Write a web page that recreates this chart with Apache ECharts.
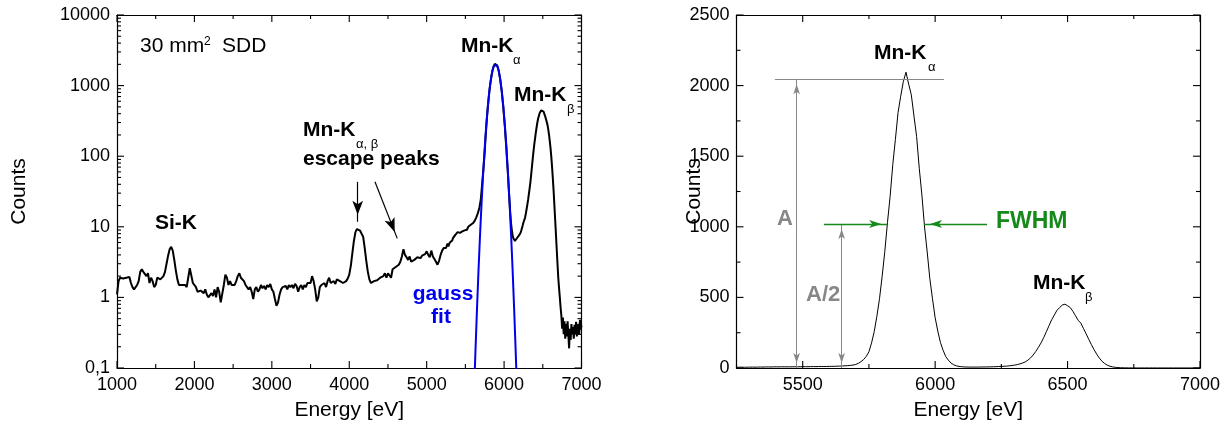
<!DOCTYPE html>
<html>
<head>
<meta charset="utf-8">
<script src="https://cdn.jsdelivr.net/npm/echarts@6/dist/echarts.min.js"></script>
<style>
  html, body { margin: 0; padding: 0; background: #fff; }
  #chart { width: 1229px; height: 438px; }
</style>
</head>
<body>
<div id="chart"></div>
<script>
// Mn (Fe-55) spectrum measured with a 30 mm² silicon drift detector.
// Low-energy part: 20 eV bins from 1000 eV.
const lowStart = 1000, lowStep = 20;
const lowCounts = [
  1.1, 1.7, 1.9, 1.8, 1.85, 1.75, 1.9, 1.85, 1.95, 1.6,
  1.4, 1.3, 1.25, 1.5, 1.7, 2.3, 2.5, 2.3, 2.4, 2.0,
  2.2, 1.6, 1.9, 1.7, 1.4, 1.5, 1.9, 2.0, 1.8, 1.9,
  2.0, 2.3, 3.0, 3.9, 4.8, 5.2, 4.6, 3.4, 2.4, 1.8,
  1.5, 1.6, 1.5, 1.6, 1.5, 1.4, 1.9, 2.6, 2.5, 1.6,
  1.5, 1.4, 1.2, 1.15, 1.25, 1.2, 1.15, 1.3, 1.1, 1.0,
  0.95, 1.15, 1.05, 1.3, 1.0, 1.4, 1.2, 0.85, 0.82, 1.5,
  2.1, 1.9, 1.5, 1.7, 1.5, 1.6, 1.5, 1.7, 2.0, 2.2,
  1.9, 2.0, 1.7, 1.5, 1.6, 1.3, 1.4, 1.2, 0.95, 1.3,
  1.4, 1.2, 1.3, 1.5, 1.35, 1.45, 1.3, 1.5, 1.4, 1.55,
  1.3, 1.2, 0.95, 0.76, 0.85, 1.1, 1.3, 1.4, 1.35, 1.45,
  1.3, 1.5, 1.4, 1.5, 1.35, 1.55, 1.45, 1.2, 1.4, 1.5,
  1.3, 1.5, 1.4, 1.6, 1.5, 1.6, 2.0, 1.7, 1.3, 0.88,
  1.0, 1.4, 1.5, 1.45, 1.6, 1.4, 1.7, 1.9, 1.6, 1.55,
  1.7, 1.55, 1.8, 1.9, 1.7, 1.8, 1.6, 1.6, 1.7, 1.85,
  2.1, 2.8, 4.2, 6.3, 8.4, 9.3, 9.2, 8.8, 8.6, 7.2,
  5.0, 3.3, 2.3, 1.8, 1.6, 1.65, 1.7, 1.6, 1.75, 1.7,
  1.9, 1.8, 2.0, 2.2, 1.9, 2.2, 2.1, 1.9, 2.5, 2.4,
  2.7, 2.6, 2.9, 3.2, 3.8, 4.8, 4.0, 3.7, 3.4, 3.8,
  3.2, 3.0, 3.4, 3.5, 3.7, 3.9, 3.6, 3.9, 3.7, 4.1,
  4.5, 4.0, 3.7, 4.6, 3.8, 3.5, 3.2, 2.9, 3.3, 4.0,
  4.6, 5.0, 5.0
];

// Mn-K region: 10 eV bins from 5250 eV.
const highStart = 5250, highStep = 10;
const highCounts = [
  5.0, 5.4, 5.8, 5.3, 5.6, 6.0, 6.3, 5.8, 6.4, 6.9,
  6.5, 7.2, 7.7, 7.3, 8.0, 8.4, 7.9, 8.6, 8.2, 8.5,
  8.1, 8.6, 8.8, 8.3, 8.9, 9.1, 9.4, 9.1, 9.7, 10.1,
  9.8, 10.4, 10.7, 10.4, 10.9, 11.3, 11.6, 12.1, 12.8, 13.5,
  14.4, 15.5, 16.8, 18.5, 21, 25, 33, 45, 60, 82,
  115, 178, 258, 366, 492, 650, 826, 1030, 1215, 1440,
  1620, 1810, 1925, 2030, 2095, 2010, 1935, 1785, 1640, 1415,
  1225, 998, 822, 632, 490, 356, 262, 180, 126, 81,
  55, 35, 23, 15.5, 11.2, 9.0, 7.6, 6.9, 6.5, 6.3,
  6.6, 6.5, 7.0, 7.1, 7.5, 7.7, 8.1, 8.7, 9.5, 10.4,
  11.5, 12.4, 13.3, 15.2, 17.6, 20.5, 24, 29, 35, 43,
  55, 71, 92, 117, 147, 178, 216, 257, 300, 342,
  375, 409, 428, 446, 452, 441, 428, 402, 370, 338,
  318, 280, 242, 203, 165, 130, 98, 70, 48, 32,
  20, 12.5, 7.8, 4.8, 3.0, 1.9, 1.35, 1.0, 0.72, 0.55,
  0.36, 0.52, 0.3, 0.46, 0.26, 0.42, 0.28, 0.46, 0.3, 0.19,
  0.36, 0.25, 0.42, 0.3, 0.38, 0.26, 0.41, 0.3, 0.45, 0.28,
  0.36, 0.42, 0.3, 0.48, 0.35, 0.4
];

// Gaussian fit of the Mn-K alpha line, sampled every 20 eV from 5610 eV.
const gaussStart = 5610, gaussStep = 20;
const gaussCounts = [
  0.038, 0.171, 0.684, 2.46, 7.89, 22.7, 58.3, 134, 276, 509,
  839, 1237, 1634, 1930, 2040, 1930, 1634, 1237, 839, 509,
  276, 134, 58.3, 22.7, 7.89, 2.46, 0.684, 0.171, 0.038
];

// Peak height A, half height A/2 and the FWHM edges of Mn-K alpha.
const peakA = 2045;
const halfA = 1020;
const fwhmEdges = [5819, 5958];

// Tick values
const leftEnergyTicks = [1000, 2000, 3000, 4000, 5000, 6000, 7000];
const leftEnergyMinor = [1500, 2500, 3500, 4500, 5500, 6500];
const rightEnergyTicks = [5500, 6000, 6500, 7000];
const rightEnergyMinor = [5250, 5750, 6250, 6750];
const decadeTicks = [0.1, 1, 10, 100, 1000, 10000];
const countTicks = [0, 500, 1000, 1500, 2000, 2500];
const countMinor = [250, 750, 1250, 1750, 2250];

const toPairs = (start, step, arr) => arr.map((v, i) => [start + i * step, v]);
const lowSeries = toPairs(lowStart, lowStep, lowCounts);
const highSeries = toPairs(highStart, highStep, highCounts);
const spectrum = lowSeries.concat(highSeries);
const gaussSeries = toPairs(gaussStart, gaussStep, gaussCounts);

const logMinor = [];
for (let d = 0; d < decadeTicks.length - 1; d++) {
  for (let m = 2; m <= 9; m++) logMinor.push(+(decadeTicks[d] * m).toPrecision(6));
}

const FONT = '"Liberation Sans", Arial, Helvetica, sans-serif';
const BLACK = '#000';
const GRAY = '#878787';
const GREEN = '#15891a';
const BLUE = '#0000f0';

const frame = { show: true, onZero: false, lineStyle: { color: BLACK, width: 1.2 } };
const noTick = { show: false };
const tickLabel = { color: BLACK, fontFamily: FONT, fontSize: 18 };
const nameStyle = { color: BLACK, fontFamily: FONT, fontSize: 21 };
const plainNum = v => String(v);
const halfThousands = v => (v % 500 === 0 ? String(v) : '');
const logFmt = v => (v < 1 ? String(+v.toPrecision(6)).replace('.', ',') : String(Math.round(v)));

const grids = [
  { left: 117, top: 15, width: 464.5, height: 353, outerBoundsMode: 'none' },
  { left: 736.5, top: 15, width: 463.5, height: 353, outerBoundsMode: 'none' }
];

const xAxes = [
  // 0: spectrum (log plot), bottom
  { type: 'value', gridIndex: 0, position: 'bottom', min: 1000, max: 7000, interval: 1000,
    axisLine: frame, axisTick: noTick,
    axisLabel: Object.assign({ margin: 8, formatter: plainNum }, tickLabel),
    splitLine: { show: false },
    name: 'Energy [eV]', nameLocation: 'middle', nameGap: 32, nameMoveOverlap: false, nameTextStyle: nameStyle },
  // 1: spectrum (log plot), top frame
  { type: 'value', gridIndex: 0, position: 'top', min: 1000, max: 7000, interval: 1000,
    axisLine: frame, axisTick: noTick, axisLabel: { show: false }, splitLine: { show: false } },
  // 2: Mn-K region, bottom
  { type: 'value', gridIndex: 1, position: 'bottom', min: 5250, max: 7000, interval: 250,
    axisLine: frame, axisTick: noTick,
    axisLabel: Object.assign({ margin: 8, formatter: halfThousands, showMinLabel: true, showMaxLabel: true }, tickLabel),
    splitLine: { show: false },
    name: 'Energy [eV]', nameLocation: 'middle', nameGap: 32, nameMoveOverlap: false, nameTextStyle: nameStyle },
  // 3: Mn-K region, top frame
  { type: 'value', gridIndex: 1, position: 'top', min: 5250, max: 7000, interval: 250,
    axisLine: frame, axisTick: noTick, axisLabel: { show: false }, splitLine: { show: false } }
];

const yAxes = [
  // 0: log counts, left
  { type: 'log', logBase: 10, gridIndex: 0, position: 'left', min: 0.1, max: 10000,
    axisLine: frame, axisTick: noTick,
    axisLabel: Object.assign({ margin: 7, formatter: logFmt }, tickLabel),
    splitLine: { show: false },
    name: 'Counts', nameLocation: 'middle', nameGap: 87, nameMoveOverlap: false, nameTextStyle: nameStyle },
  // 1: log counts, right frame
  { type: 'log', logBase: 10, gridIndex: 0, position: 'right', min: 0.1, max: 10000,
    axisLine: frame, axisTick: noTick, axisLabel: { show: false }, splitLine: { show: false } },
  // 2: linear counts, left
  { type: 'value', gridIndex: 1, position: 'left', min: 0, max: 2500, interval: 500,
    axisLine: frame, axisTick: noTick,
    axisLabel: Object.assign({ margin: 7, formatter: plainNum }, tickLabel), splitLine: { show: false },
    name: 'Counts', nameLocation: 'middle', nameGap: 32, nameMoveOverlap: false, nameTextStyle: nameStyle },
  // 3: linear counts, right frame
  { type: 'value', gridIndex: 1, position: 'right', min: 0, max: 2500, interval: 500,
    axisLine: frame, axisTick: noTick, axisLabel: { show: false }, splitLine: { show: false } }
];

function arrowEnd(coord, size) {
  return { coord: coord, symbol: 'arrow', symbolSize: size, symbolOffset: [0, '50%'] };
}
function plainEnd(coord, lineStyle) {
  const item = { coord: coord, symbol: 'none' };
  if (lineStyle) item.lineStyle = lineStyle;
  return item;
}
function arrowStart(coord, size, lineStyle) {
  const item = arrowEnd(coord, size);
  if (lineStyle) item.lineStyle = lineStyle;
  return item;
}

const grayLine = { color: GRAY, width: 1, type: 'solid' };
const greenLine = { color: GREEN, width: 1.3, type: 'solid' };
const markBase = { silent: true, animation: false, label: { show: false }, emphasis: { disabled: true } };

const series = [
  { type: 'line', name: 'spectrum', xAxisIndex: 0, yAxisIndex: 0, data: spectrum,
    showSymbol: false, symbol: 'none', clip: true, sampling: 'none',
    lineStyle: { color: BLACK, width: 2 }, z: 2,
    markLine: Object.assign({}, markBase, {
      lineStyle: { color: BLACK, width: 1.2, type: 'solid' },
      data: [
        [plainEnd([4109, 43.4]), arrowEnd([4109, 11.8], [8, 14])],
        [plainEnd([4332, 43.4]), arrowEnd([4620, 6.85], [8, 14])]
      ]
    }) },
  { type: 'line', name: 'gauss fit', xAxisIndex: 0, yAxisIndex: 0, data: gaussSeries,
    showSymbol: false, symbol: 'none', clip: true, smooth: false,
    lineStyle: { color: BLUE, width: 2 }, z: 3 },
  { type: 'line', name: 'spectrum linear', xAxisIndex: 2, yAxisIndex: 2, data: highSeries,
    showSymbol: false, symbol: 'none', clip: true, sampling: 'none',
    lineStyle: { color: BLACK, width: 1 }, z: 3,
    markLine: Object.assign({}, markBase, {
      lineStyle: grayLine,
      data: [
        [plainEnd([5395, peakA], grayLine), plainEnd([6033, peakA])],
        [arrowStart([5477, 0], [5, 10], grayLine), arrowEnd([5477, peakA], [5, 10])],
        [arrowStart([5647, 0], [5, 10], grayLine), arrowEnd([5647, halfA], [5, 10])],
        [plainEnd([5580, halfA], greenLine), arrowEnd([fwhmEdges[0], halfA], [6, 12])],
        [plainEnd([6196, halfA], greenLine), arrowEnd([fwhmEdges[1], halfA], [6, 12])]
      ]
    }) }
];

function txt(text, x, y, size, opts) {
  opts = opts || {};
  const align = opts.align || 'left';
  return {
    type: 'text', x: x, y: y, silent: true, z: 10,
    style: {
      text: text, fill: opts.color || BLACK,
      font: (opts.bold ? 'bold ' : '') + size + 'px ' + FONT,
      align: align, verticalAlign: 'middle'
    }
  };
}

const labels = [
  // log plot
  txt('30 mm', 140, 46, 21),
  txt('2', 204, 42, 12),
  txt('SDD', 222, 46, 21),
  txt('Mn-K', 461, 46.5, 21, { bold: true }),
  txt('α', 513, 60, 13),
  txt('Mn-K', 514, 95, 21, { bold: true }),
  txt('β', 567, 109, 13),
  txt('Mn-K', 303, 130, 21, { bold: true }),
  txt('α, β', 356, 144, 13),
  txt('escape peaks', 303, 159, 21, { bold: true }),
  txt('Si-K', 155, 223, 21, { bold: true }),
  txt('gauss', 443, 294, 21, { bold: true, color: BLUE, align: 'center' }),
  txt('fit', 441, 317.5, 21, { bold: true, color: BLUE, align: 'center' }),
  // linear plot
  txt('Mn-K', 874, 53.5, 21, { bold: true }),
  txt('α', 928, 67.5, 13),
  txt('Mn-K', 1033, 283, 21, { bold: true }),
  txt('β', 1085, 297.5, 13),
  txt('A', 777, 219, 22, { bold: true, color: GRAY }),
  txt('A/2', 806, 295, 22, { bold: true, color: GRAY }),
  txt('FWHM', 996, 222, 23, { bold: true, color: GREEN })
];

const chart = echarts.init(document.getElementById('chart'), null, { renderer: 'canvas' });
chart.setOption({
  animation: false,
  backgroundColor: '#fff',
  textStyle: { fontFamily: FONT },
  grid: grids,
  xAxis: xAxes,
  yAxis: yAxes,
  series: series
});

// Maps an axis value to a pixel with the chart's own conversion; falls back to the
// grid box and the axis range when the conversion gives nothing usable.
function axisMapper(finder, lo, hi, pxLo, pxHi, isLog) {
  const f = isLog ? Math.log10 : (v => v);
  const manual = v => pxLo + (f(v) - f(lo)) / (f(hi) - f(lo)) * (pxHi - pxLo);
  const minPx = Math.min(pxLo, pxHi) - 2, maxPx = Math.max(pxLo, pxHi) + 2;
  return v => {
    let p = NaN;
    try { p = chart.convertToPixel(finder, v); } catch (e) { p = NaN; }
    if (typeof p !== 'number' || !isFinite(p) || p < minPx || p > maxPx) p = manual(v);
    return p;
  };
}

// Inward tick marks on all four sides of a plot, drawn as thin filled bars.
function tickMarks(g, xIdx, yIdx, xRange, yRange, yLog, xMajor, xMinor, yMajor, yMinor) {
  const MAJOR = 7, MINOR = 4, W = 1.1;
  const left = g.left, right = g.left + g.width, top = g.top, bottom = g.top + g.height;
  const xp = axisMapper({ xAxisIndex: xIdx }, xRange[0], xRange[1], left, right, false);
  const yp = axisMapper({ yAxisIndex: yIdx }, yRange[0], yRange[1], bottom, top, yLog);
  const out = [];
  const bar = (x, y, w, h) => out.push({
    type: 'rect', silent: true, z: 9,
    shape: { x: x, y: y, width: w, height: h },
    style: { fill: BLACK }
  });
  const xt = (vals, len) => vals.forEach(v => {
    const p = xp(v);
    bar(p - W / 2, bottom - len, W, len);
    bar(p - W / 2, top, W, len);
  });
  const yt = (vals, len) => vals.forEach(v => {
    const p = yp(v);
    bar(left, p - W / 2, len, W);
    bar(right - len, p - W / 2, len, W);
  });
  xt(xMajor, MAJOR); xt(xMinor, MINOR);
  yt(yMajor, MAJOR); yt(yMinor, MINOR);
  return out;
}

const ticks = tickMarks(grids[0], 0, 0, [1000, 7000], [0.1, 10000], true,
    leftEnergyTicks, leftEnergyMinor, decadeTicks, logMinor)
  .concat(tickMarks(grids[1], 2, 2, [5250, 7000], [0, 2500], false,
    rightEnergyTicks, rightEnergyMinor, countTicks, countMinor));

chart.setOption({ graphic: { elements: labels.concat(ticks) } });
</script>
</body>
</html>
